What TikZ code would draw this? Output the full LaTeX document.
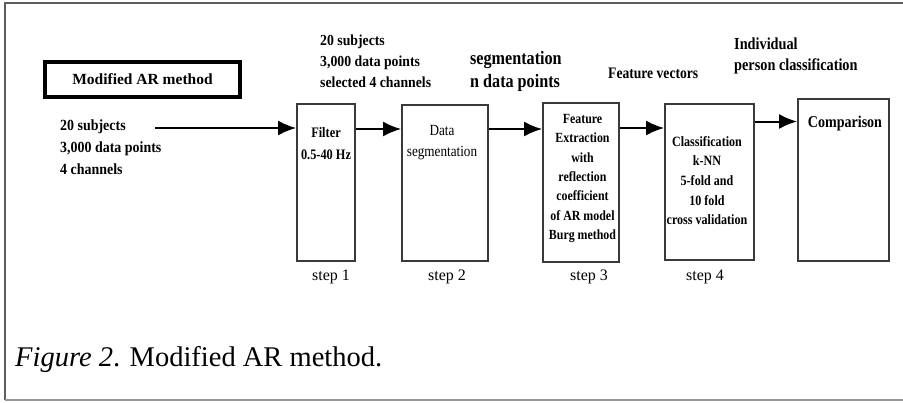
\documentclass[tikz,border=0pt]{standalone}
\usepackage{fontspec}
\setmainfont{Liberation Serif}
\newfontfamily\cnd[FakeStretch=0.85]{Liberation Serif}
\usetikzlibrary{arrows.meta}
\definecolor{boxgray}{HTML}{3A3A3A}
\definecolor{framegray}{HTML}{5E5E5E}
\tikzset{
  stepbox/.style={draw=boxgray, line width=1.8pt, inner sep=0pt},
  arr/.style={line width=2pt, -{Latex[length=18pt,width=15pt]}},
  boxtxt/.style={font=\cnd\bfseries\fontsize{14}{19.3}\selectfont, align=center, inner sep=0pt},
  lbl/.style={font=\cnd\bfseries\fontsize{15.5}{22}\selectfont\addfontfeature{FakeStretch=0.9}, align=left, inner sep=0pt, anchor=north west},
  steplbl/.style={font=\fontsize{16}{18}\selectfont, inner sep=0pt},
}
\begin{document}
\begin{tikzpicture}[x=1pt,y=-1pt]
\useasboundingbox (0,0) rectangle (903,402);
% frame
\draw[framegray, line width=1.8pt] (903,3) -- (5,3) -- (5,400);
\draw[framegray!65, line width=1.6pt] (5,400) -- (903,400);

% title box
\node[draw=black, line width=3.5pt, minimum width=195pt, minimum height=35pt, inner sep=0pt,
      font=\bfseries\fontsize{15.5}{18}\selectfont] (title) at (142.5,79.5) {Modified AR method};

% process boxes
\node[stepbox, minimum width=58pt, minimum height=157pt] (filter) at (326,182.5) {};
\node[stepbox, minimum width=86pt, minimum height=156pt] (data) at (445,183) {};
\node[stepbox, minimum width=76pt, minimum height=159pt] (feat) at (581,182.5) {};
\node[stepbox, minimum width=89pt, minimum height=156pt] (clas) at (709.5,182) {};
\node[stepbox, minimum width=91pt, minimum height=162pt] (comp) at (843.5,180) {};

% box texts
\node[boxtxt, font=\cnd\bfseries\fontsize{14.5}{22}\selectfont] (filtertxt) at (326,144) {Filter\\0.5-40 Hz};
\node[boxtxt, font=\cnd\fontsize{15.5}{21}\selectfont] (datatxt) at (442,143) {Data\\segmentation};
\node[boxtxt] (feattxt) at (582.5,178.5) {Feature\\Extraction\\with\\reflection\\coefficient\\of AR model\\Burg method};
\node[boxtxt, font=\cnd\bfseries\fontsize{14.2}{19.7}\selectfont] (clastxt) at (707,180.5) {Classification\\k-NN\\5-fold and\\10 fold\\cross validation};
\node[boxtxt, font=\cnd\bfseries\fontsize{16.5}{18}\selectfont] (comptxt) at (845,124) {Comparison};

% outside labels
\node[lbl] (inp) at (60,120) {20 subjects\\3,000 data points\\4 channels};
\node[lbl, font=\bfseries\fontsize{15.3}{21}\selectfont\addfontfeature{FakeStretch=0.9}] (top1) at (320,35) {20 subjects\\3,000 data points\\selected 4 channels};
\node[lbl, font=\cnd\bfseries\fontsize{19}{23}\selectfont] (seg) at (470,51) {segmentation\\n data points};
\node[lbl, font=\cnd\bfseries\fontsize{16}{20}\selectfont] (fv) at (608,68) {Feature vectors};
\node[lbl, font=\cnd\bfseries\fontsize{16.8}{21}\selectfont] (indiv) at (734,38) {Individual\\person classification};

% step labels
\node[steplbl] (s1) at (331,277) {step 1};
\node[steplbl] (s2) at (447,277) {step 2};
\node[steplbl] (s3) at (589,277) {step 3};
\node[steplbl] (s4) at (705,277) {step 4};

% connectors
\coordinate (start) at (155,128);
\coordinate (r1) at (0,129);
\coordinate (r2) at (0,129);
\coordinate (r3) at (0,128);
\coordinate (r4) at (0,121.5);
\draw[arr] (start) -- (start -| filter.west);
\draw[arr] (filter.east |- r1) -- (data.west |- r1);
\draw[arr] (data.east |- r2) -- (feat.west |- r2);
\draw[arr] (feat.east |- r3) -- (clas.west |- r3);
\draw[arr] (clas.east |- r4) -- (comp.west |- r4);

% caption
\node[anchor=base west, inner sep=0pt, font=\fontsize{28.5}{30}\selectfont] (caption) at (15,366) {\textit{Figure 2}. Modified AR method.};
\end{tikzpicture}
\end{document}
